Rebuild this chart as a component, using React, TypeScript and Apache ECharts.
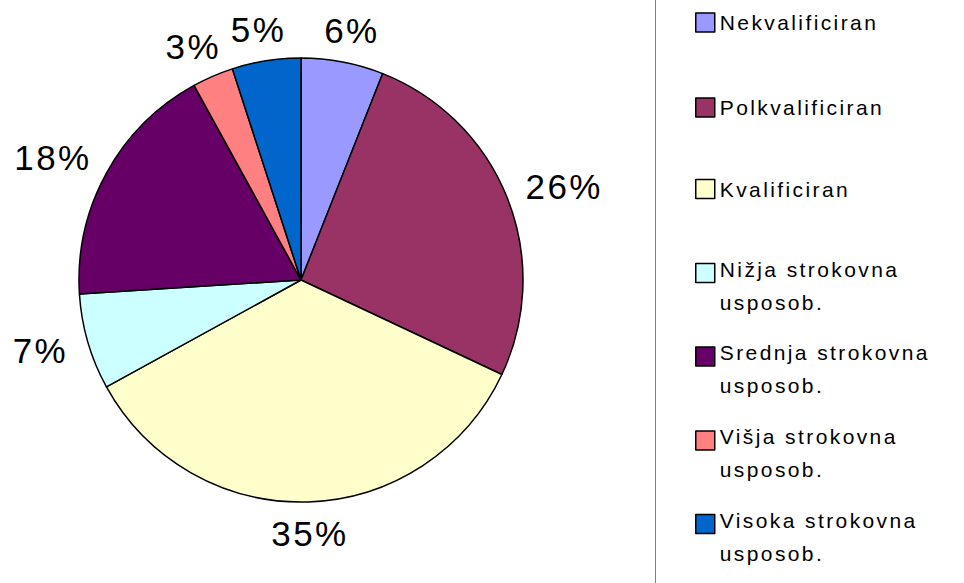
import React, { useEffect, useRef } from "react";
import * as echarts from "echarts";

const categories = [
  "Nekvalificiran",
  "Polkvalificiran",
  "Kvalificiran",
  "Nižja strokovna\nusposob.",
  "Srednja strokovna\nusposob.",
  "Višja strokovna\nusposob.",
  "Visoka strokovna\nusposob.",
];
const values = [6, 26, 35, 7, 18, 3, 5];
const colors = ["#9999FF", "#993366", "#FFFFCC", "#CCFFFF", "#660066", "#FF8080", "#0066CC"];

const FONT = "'Liberation Sans', Arial, sans-serif";

export default function App() {
  const ref = useRef<HTMLDivElement>(null);
  useEffect(() => {
    document.body.style.margin = "0";
    if (!ref.current) return;
    const chart = echarts.init(ref.current, null, { renderer: "svg" });
    const cx = 301;
    const cy = 280;
    const r = 222;
    const gap = 19;
    const total = values.reduce((a, b) => a + b, 0);
    const cum: number[] = [];
    values.reduce((acc, v) => {
      cum.push(acc);
      return acc + v;
    }, 0);

    const iconCenters = [23, 108, 189.5, 275, 358.5, 442.5, 526];
    const legends = categories.map((name, i) => {
      const multi = name.includes("\n");
      return {
        data: [name],
        orient: "vertical",
        left: 695,
        top: multi ? iconCenters[i] - 45.5 : iconCenters[i] - 11,
        padding: 0,
        itemWidth: 19,
        itemHeight: 19,
        itemGap: 0,
        selectedMode: false,
        icon: "rect",
        itemStyle: { borderColor: "#000", borderWidth: 1.5 },
        formatter: multi
          ? (n: string) => {
              const parts = n.split("\n");
              return `{e| }\n{t|${parts[0]}}\n{t|${parts[1]}}`;
            }
          : undefined,
        textStyle: multi
          ? {
              fontFamily: FONT,
              fontSize: 21,
              color: "#000",
              rich: {
                e: { fontFamily: FONT, fontSize: 21, lineHeight: 25 },
                t: { fontFamily: FONT, fontSize: 21, lineHeight: 33, color: "#000" },
              },
            }
          : { fontFamily: FONT, fontSize: 21, color: "#000" },
      };
    });

    chart.setOption({
      animation: false,
      backgroundColor: "#fff",
      legend: legends,
      graphic: [
        {
          type: "line",
          shape: { x1: 655.5, y1: 0, x2: 655.5, y2: 583 },
          style: { stroke: "#7f7f7f", lineWidth: 1 },
        },
      ],
      series: [
        {
          type: "pie",
          center: [cx, cy],
          radius: r,
          startAngle: 90,
          clockwise: true,
          avoidLabelOverlap: false,
          data: categories.map((name, i) => ({
            name,
            value: values[i],
            itemStyle: { color: colors[i] },
          })),
          itemStyle: { borderColor: "#000", borderWidth: 1.5 },
          label: {
            show: true,
            position: "outside",
            formatter: (p: any) => `${Math.round(p.percent)}%`,
            fontFamily: FONT,
            fontSize: 35,
            color: "#000",
          },
          labelLine: { show: false, length: 10, length2: 0 },
          emphasis: { disabled: true },
          labelLayout: (params: any) => {
            const i = params.dataIndex;
            const theta = ((cum[i] + values[i] / 2) / total) * Math.PI * 2;
            const s = Math.sin(theta);
            const c = Math.cos(theta);
            const w = params.labelRect.width * 1.2;
            const h = params.labelRect.height * 0.75;
            const R = r + gap;
            return {
              x: cx + R * s + (s * w) / 2,
              y: cy - R * c - (c * h) / 2,
              align: "center",
              verticalAlign: "middle",
            };
          },
        },
      ],
    });
    return () => chart.dispose();
  }, []);
  return (
    <>
      <style>{`#chartbox text { letter-spacing: 2.4px; }`}</style>
      <div id="chartbox" ref={ref} style={{ width: 964, height: 583 }} />
    </>
  );
}
